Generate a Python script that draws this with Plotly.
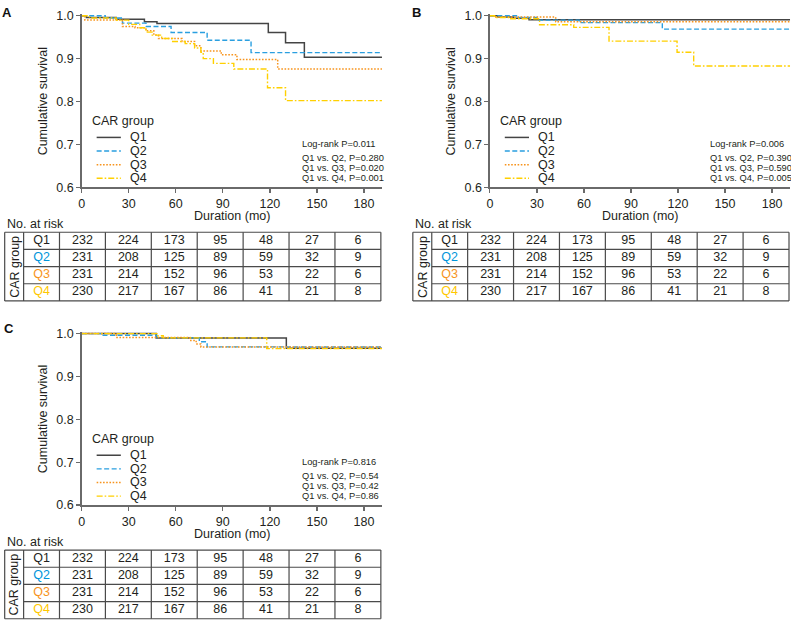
import plotly.graph_objects as go

W, H = 791, 628

# ---------------- data ----------------
months = [0, 30, 60, 90, 120, 150, 180]
groups = ["Q1", "Q2", "Q3", "Q4"]
y_ticks = [0.6, 0.7, 0.8, 0.9, 1.0]

risk_q1 = [232, 224, 173, 95, 48, 27, 6]
risk_q2 = [231, 208, 125, 89, 59, 32, 9]
risk_q3 = [231, 214, 152, 96, 53, 22, 6]
risk_q4 = [230, 217, 167, 86, 41, 21, 8]

# Panel A survival steps
a_q1_t = [0, 3, 22, 40, 48, 119, 130, 142, 191.5]
a_q1_s = [1.0, 0.996, 0.992, 0.986, 0.982, 0.961, 0.937, 0.903, 0.903]
a_q2_t = [0, 15, 26, 41, 57, 80, 108, 191.5]
a_q2_s = [1.0, 0.995, 0.983, 0.975, 0.961, 0.943, 0.914, 0.914]
a_q3_t = [0, 2, 26, 34, 41, 46, 49, 64, 72, 76, 89, 99, 125, 191.5]
a_q3_s = [1.0, 0.99, 0.975, 0.972, 0.965, 0.955, 0.947, 0.94, 0.93, 0.918, 0.909, 0.898, 0.876, 0.876]
a_q4_t = [0, 5, 22, 30, 37, 41, 45, 51, 58, 66, 72, 76, 77.5, 84, 97, 118.5, 130, 191.5]
a_q4_s = [1.0, 0.995, 0.99, 0.98, 0.972, 0.962, 0.955, 0.947, 0.94, 0.935, 0.925, 0.915, 0.9, 0.889, 0.876, 0.832, 0.802, 0.802]

# Panel B survival steps
b_q1_t = [0, 5, 15, 25, 191.5]
b_q1_s = [1.0, 0.997, 0.994, 0.991, 0.991]
b_q2_t = [0, 17, 30, 57, 110, 191.5]
b_q2_s = [1.0, 0.996, 0.99, 0.984, 0.969, 0.969]
b_q3_t = [0, 3, 42, 191.5]
b_q3_s = [1.0, 0.997, 0.986, 0.986]
b_q4_t = [0, 3, 12, 31.7, 53.5, 76, 119.4, 130, 191.5]
b_q4_s = [1.0, 0.996, 0.993, 0.979, 0.973, 0.941, 0.915, 0.883, 0.883]

# Panel C survival steps
c_q1_t = [0, 47.5, 130.5, 191.5]
c_q1_s = [1.0, 0.99, 0.966, 0.966]
c_q2_t = [0, 13, 48, 75, 80, 191.5]
c_q2_s = [1.0, 0.996, 0.99, 0.981, 0.969, 0.969]
c_q3_t = [0, 22, 69, 73, 76, 191.5]
c_q3_s = [1.0, 0.991, 0.984, 0.976, 0.969, 0.969]
c_q4_t = [0, 48, 52, 118, 191.5]
c_q4_s = [1.0, 0.995, 0.99, 0.965, 0.965]

a_stats = ["Log-rank P=0.011", "Q1 vs. Q2, P=0.280", "Q1 vs. Q3, P=0.020", "Q1 vs. Q4, P=0.001"]
b_stats = ["Log-rank P=0.006", "Q1 vs. Q2, P=0.390", "Q1 vs. Q3, P=0.590", "Q1 vs. Q4, P=0.005"]
c_stats = ["Log-rank P=0.816", "Q1 vs. Q2, P=0.54", "Q1 vs. Q3, P=0.42", "Q1 vs. Q4, P=0.86"]

# ---------------- style ----------------
FONT = "Liberation Sans, Arial, sans-serif"
TXT = "#231f20"
AXC = "#6a6a6a"
line_colors = ["#444444", "#2a9fe0", "#f7941d", "#ffd000"]
label_colors = ["#231f20", "#0095da", "#f7941d", "#ffc800"]
line_dash = ["solid", "5px,2.5px", "1.6px,1.6px", "6px,2px,1.6px,2px"]
line_width = [1.5, 1.4, 1.5, 1.4]


def dx(px):
    return px / W


def dy(py):
    return 1 - py / H


XSCALE = 1.574       # px per month
PLOT_W = 301.4
PLOT_H = 174.8
X_END = PLOT_W / XSCALE
YPAD = 0.004
TBL_W = 377.6
TBL_H = 70.0
GW, QW, VW = 19.0, 36.0, (TBL_W - 19.0 - 36.0) / 7

panels = [
    dict(letter="A", ox=79, oy=11, lx=4, ly=7.5, tl=1.7,
         curves=[(a_q1_t, a_q1_s), (a_q2_t, a_q2_s), (a_q3_t, a_q3_s), (a_q4_t, a_q4_s)],
         stats=a_stats),
    dict(letter="B", ox=488.7, oy=11, lx=415, ly=7.5, tl=411.4,
         curves=[(b_q1_t, b_q1_s), (b_q2_t, b_q2_s), (b_q3_t, b_q3_s), (b_q4_t, b_q4_s)],
         stats=b_stats),
    dict(letter="C", ox=79, oy=335, lx=6, ly=329.5, tl=1.7,
         curves=[(c_q1_t, c_q1_s), (c_q2_t, c_q2_s), (c_q3_t, c_q3_s), (c_q4_t, c_q4_s)],
         stats=c_stats),
]

risk = [risk_q1, risk_q2, risk_q3, risk_q4]

fig = go.Figure()
layout = {}
annotations = []
shapes = []


def ann(text, x, y, xanchor="center", size=12.5, color=TXT, angle=0, xref="paper", yref="paper"):
    annotations.append(dict(text=text, x=x, y=y, xref=xref, yref=yref, xanchor=xanchor,
                            yanchor="middle", showarrow=False, textangle=angle,
                            font=dict(family=FONT, size=size, color=color)))


for i, p in enumerate(panels):
    pa, ta = 2 * i + 1, 2 * i + 2
    pxn = "x" if pa == 1 else f"x{pa}"
    pyn = "y" if pa == 1 else f"y{pa}"
    txn, tyn = f"x{ta}", f"y{ta}"
    pxk = "xaxis" if pa == 1 else f"xaxis{pa}"
    pyk = "yaxis" if pa == 1 else f"yaxis{pa}"
    ox, oy = p["ox"], p["oy"]

    axis_common = dict(showline=True, linecolor=AXC, linewidth=1.5, ticks="outside",
                       ticklen=4, tickwidth=1.3, tickcolor=AXC, showgrid=False,
                       zeroline=False, tickfont=dict(family=FONT, size=12.5, color=TXT),
                       fixedrange=True)
    layout[pxk] = dict(domain=[dx(ox), dx(ox + PLOT_W)], range=[0, X_END], anchor=pyn,
                       tickvals=months, ticktext=[str(m) for m in months], **axis_common)
    top_px = oy - YPAD * PLOT_H / 0.4
    layout[pyk] = dict(domain=[dy(oy + PLOT_H), dy(top_px)], range=[0.6, 1.0 + YPAD],
                       anchor=pxn, tickvals=y_ticks, ticktext=[f"{v:.1f}" for v in y_ticks],
                       **axis_common)

    for g, (t, s) in enumerate(p["curves"]):
        fig.add_trace(go.Scatter(x=t, y=s, mode="lines", xaxis=pxn, yaxis=pyn,
                                 line=dict(shape="hv", color=line_colors[g], width=line_width[g],
                                           dash=line_dash[g]),
                                 showlegend=False, hoverinfo="skip"))

    # letters and titles
    ann(f"<b>{p['letter']}</b>", dx(p["lx"]), dy(p["ly"]), size=13, color="#111")
    ann("Cumulative survival", dx(ox - 39), dy(oy + PLOT_H / 2), angle=-90)
    ann("Duration (mo)", dx(ox + PLOT_W / 2), dy(oy + 204))

    # legend
    ann("CAR group", dx(ox + 8.3), dy(oy + 107.3), xanchor="left")
    for g in range(4):
        yy = oy + 124 + 13.9 * g
        shapes.append(dict(type="line", xref="paper", yref="paper",
                           x0=dx(ox + 15), x1=dx(ox + 39.3), y0=dy(yy), y1=dy(yy),
                           line=dict(color=line_colors[g], width=line_width[g], dash=line_dash[g])))
        ann(groups[g], dx(ox + 46), dy(yy), xanchor="left")

    # stats
    for k, (txt, off) in enumerate(zip(p["stats"], [130.7, 145.3, 155.3, 165.3])):
        ann(txt, dx(ox + 219.3), dy(oy + off), xanchor="left", size=9.3)

    # risk table
    ann("No. at risk", dx(p["tl"] + 0.3), dy(oy + 212.3), xanchor="left")
    tl = p["tl"]
    ttop = oy + 220.7
    u = 1.0 / VW  # column units per px
    x_lo = -0.5 - (QW + GW) * u
    x_hi = 6.5
    pad = 1.5
    layout[f"xaxis{ta}"] = dict(domain=[dx(tl - pad), dx(tl + TBL_W + pad)],
                                range=[x_lo - pad * u, x_hi + pad * u], anchor=tyn,
                                visible=False, fixedrange=True)
    rv = 4.0 / TBL_H
    layout[f"yaxis{ta}"] = dict(domain=[dy(ttop + TBL_H + pad), dy(ttop - pad)],
                                range=[3.5 + pad * rv, -0.5 - pad * rv], anchor=txn,
                                visible=False, fixedrange=True)
    LC, LW = "#4a4a4a", 1.2
    q_left = -0.5 - QW * u
    for xv in [x_lo, q_left] + [c - 0.5 for c in range(8)]:
        shapes.append(dict(type="line", xref=txn, yref=tyn, x0=xv, x1=xv, y0=-0.5, y1=3.5,
                           line=dict(color=LC, width=LW)))
    for yv in [-0.5, 3.5]:
        shapes.append(dict(type="line", xref=txn, yref=tyn, x0=x_lo, x1=x_hi, y0=yv, y1=yv,
                           line=dict(color=LC, width=LW)))
    for yv in [0.5, 1.5, 2.5]:
        shapes.append(dict(type="line", xref=txn, yref=tyn, x0=q_left, x1=x_hi, y0=yv, y1=yv,
                           line=dict(color=LC, width=LW)))
    xs, ys, ts = [], [], []
    for r in range(4):
        for c in range(len(months)):
            xs.append(c)
            ys.append(r)
            ts.append(str(risk[r][c]))
    fig.add_trace(go.Scatter(x=xs, y=ys, text=ts, mode="text", xaxis=txn, yaxis=tyn,
                             textfont=dict(family=FONT, size=12.5, color=TXT),
                             textposition="middle center", showlegend=False,
                             hoverinfo="skip", cliponaxis=False))
    fig.add_trace(go.Scatter(x=[q_left + QW * u / 2] * 4, y=list(range(4)), text=groups,
                             mode="text", xaxis=txn, yaxis=tyn,
                             textfont=dict(family=FONT, size=12.5, color=label_colors),
                             textposition="middle center", showlegend=False,
                             hoverinfo="skip", cliponaxis=False))
    ann("CAR group", x_lo + GW * u / 2, 1.5, angle=-90, xref=txn, yref=tyn)

layout.update(dict(width=W, height=H, margin=dict(l=0, r=0, t=0, b=0),
                   paper_bgcolor="white", plot_bgcolor="white",
                   annotations=annotations, shapes=shapes, showlegend=False,
                   font=dict(family=FONT, color=TXT)))
fig.update_layout(**layout)
fig.write_html("out.html",
               config={"displayModeBar": False, "staticPlot": True},
               post_script="document.documentElement.style.margin='0';"
                           "document.body.style.margin='0';document.body.style.padding='0';")
